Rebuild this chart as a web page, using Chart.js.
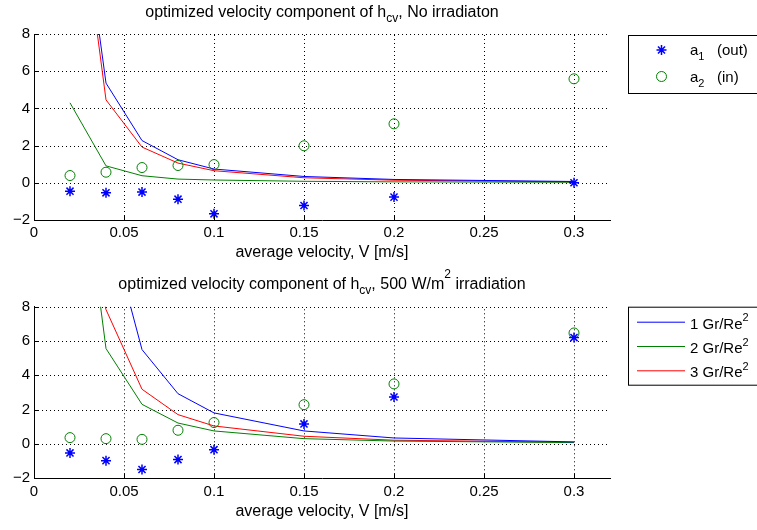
<!DOCTYPE html>
<html>
<head>
<meta charset="utf-8">
<script src="https://cdn.jsdelivr.net/npm/chart.js@4/dist/chart.umd.min.js"></script>
<style>
body{margin:0;background:#fff;}
#wrap{position:relative;width:757px;height:530px;overflow:hidden;}
canvas{position:absolute;left:0;}
</style>
</head>
<body>
<div id="wrap">
<canvas id="topChart" width="757" height="265" style="top:0"></canvas>
<canvas id="botChart" width="757" height="265" style="top:265px"></canvas>
</div>
<script>
// average velocity V [m/s]
var velocity = [0.02, 0.04, 0.06, 0.08, 0.1, 0.15, 0.2, 0.3];

// no irradiation
var a1Out0 = [-0.45, -0.54, -0.5, -0.88, -1.67, -1.22, -0.77, 0.0];
var a2In0  = [0.39, 0.57, 0.82, 0.93, 0.98, 1.99, 3.17, 5.59];
var gr1_0  = [19.6, 5.36, 2.27, 1.24, 0.74, 0.34, 0.18, 0.07];
var gr2_0  = [4.3, 0.91, 0.38, 0.2, 0.15, 0.08, 0.05, 0.03];
var gr3_0  = [19.2, 4.46, 1.92, 1.06, 0.65, 0.27, 0.14, 0.05];

// 500 W/m2 irradiation
var a1Out5 = [-0.52, -0.97, -1.49, -0.91, -0.33, 1.17, 2.74, 6.2];
var a2In5  = [0.37, 0.31, 0.27, 0.8, 1.25, 2.29, 3.5, 6.47];
var gr1_5  = [40, 13.4, 5.5, 2.93, 1.81, 0.76, 0.35, 0.12];
var gr2_5  = [21.8, 5.56, 2.31, 1.22, 0.76, 0.31, 0.17, 0.08];
var gr3_5  = [16.5, 7.83, 3.19, 1.71, 1.05, 0.45, 0.22, 0.1];

var xTicks = [0, 0.05, 0.1, 0.15, 0.2, 0.25, 0.3];
var xTickLabels = ['0', '0.05', '0.1', '0.15', '0.2', '0.25', '0.3'];
var yTicks = [-2, 0, 2, 4, 6, 8];
var yTickLabels = ['\u22122', '0', '2', '4', '6', '8'];

var FONT = '"Liberation Sans", Arial, Helvetica, sans-serif';
var BLUE = '#0000ff', GREEN = '#008000', RED = '#ff0000';

function pts(ys) {
  return velocity.map(function (v, i) { return {x: v, y: ys[i]}; });
}

// text with sub/superscripts, drawn piece by piece
function drawRich(ctx, parts, x, baseY, size, align, supK) {
  var small = Math.round(size * 0.75);
  var total = 0;
  parts.forEach(function (p) {
    ctx.font = ((p.sub || p.sup) ? small : size) + 'px ' + FONT;
    p.w = ctx.measureText(p.t).width;
    total += p.w;
  });
  var cx = align === 'center' ? x - total / 2 : x;
  ctx.fillStyle = '#000';
  ctx.textAlign = 'left';
  ctx.textBaseline = 'alphabetic';
  parts.forEach(function (p) {
    ctx.font = ((p.sub || p.sup) ? small : size) + 'px ' + FONT;
    var dy = p.sub ? size * 0.35 : (p.sup ? -size * supK : 0);
    ctx.fillText(p.t, cx, baseY + dy);
    cx += p.w;
  });
}

var matlabDecor = {
  id: 'matlabDecor',
  beforeDatasetsDraw: function (chart) {
    // dotted grid
    var ctx = chart.ctx, area = chart.chartArea;
    var xs = chart.scales.x, ys = chart.scales.y;
    ctx.save();
    ctx.strokeStyle = '#000';
    ctx.lineWidth = 1;
    ctx.setLineDash([1, 3]);
    ctx.beginPath();
    xTicks.forEach(function (t) {
      if (t === 0) return;
      var px = Math.round(xs.getPixelForValue(t)) + 0.5;
      ctx.moveTo(px, area.bottom); ctx.lineTo(px, area.top);
    });
    yTicks.forEach(function (t) {
      if (t === -2) return;
      var py = Math.round(ys.getPixelForValue(t)) + 0.5;
      ctx.moveTo(area.left, py); ctx.lineTo(area.right, py);
    });
    ctx.stroke();
    ctx.restore();
  },
  afterDraw: function (chart, args, opts) {
    var ctx = chart.ctx, area = chart.chartArea;
    ctx.save();
    drawRich(ctx, opts.title, (area.left + area.right) / 2, opts.titleY, 16, 'center', 0.63);

    // small inward tick marks like matlab
    var xs = chart.scales.x, ys = chart.scales.y;
    ctx.strokeStyle = '#000';
    ctx.lineWidth = 1;
    ctx.beginPath();
    xTicks.forEach(function (t) {
      var px = Math.round(xs.getPixelForValue(t)) + 0.5;
      ctx.moveTo(px, area.bottom); ctx.lineTo(px, area.bottom - 5);
    });
    yTicks.forEach(function (t) {
      var py = Math.round(ys.getPixelForValue(t)) + 0.5;
      ctx.moveTo(area.left, py); ctx.lineTo(area.left + 5, py);
    });
    ctx.stroke();

    // legend box
    var lg = opts.legend;
    ctx.fillStyle = '#fff';
    ctx.fillRect(lg.x, lg.y, lg.w, lg.h);
    ctx.strokeStyle = '#000';
    ctx.lineWidth = 1;
    ctx.strokeRect(lg.x + 0.5, lg.y + 0.5, lg.w, lg.h);
    lg.items.forEach(function (it, i) {
      var y = lg.y + lg.first + i * lg.step;
      ctx.strokeStyle = it.color;
      ctx.beginPath();
      if (it.kind === 'star') {
        ctx.lineWidth = 1.5;
        var r = 5, sx = lg.x + 33.5;
        for (var k = 0; k < 4; k++) {
          var a = k * Math.PI / 4;
          ctx.moveTo(sx - r * Math.cos(a), y - r * Math.sin(a));
          ctx.lineTo(sx + r * Math.cos(a), y + r * Math.sin(a));
        }
      } else if (it.kind === 'circle') {
        ctx.lineWidth = 1;
        ctx.arc(lg.x + 33.5, y, 5, 0, Math.PI * 2);
      } else {
        ctx.lineWidth = 1;
        ctx.moveTo(lg.x + 9, y + 0.5);
        ctx.lineTo(lg.x + 57, y + 0.5);
      }
      ctx.stroke();
      drawRich(ctx, it.text, lg.x + lg.textX, y + lg.textDy, 15, 'left', 0.5);
    });
    ctx.restore();
  }
};

function makeOptions(cfg) {
  return {
    responsive: false,
    animation: false,
    events: [],
    layout: {padding: {top: cfg.top, right: 147, left: 0, bottom: 0}},
    plugins: {
      legend: {display: false},
      tooltip: {enabled: false},
      matlabDecor: {title: cfg.title, titleY: cfg.titleY, legend: cfg.legend}
    },
    scales: {
      x: {
        type: 'linear', min: 0, max: 0.32,
        afterBuildTicks: function (s) { s.ticks = xTicks.map(function (v) { return {value: v}; }); },
        afterFit: function (s) { s.height = cfg.xHeight; },
        ticks: {
          color: '#000', font: {size: 15, family: FONT}, padding: cfg.xTickPad, maxRotation: 0,
          callback: function (v) { return xTickLabels[xTicks.indexOf(v)]; }
        },
        grid: {display: false, drawTicks: false},
        border: {display: true, color: '#000', width: 1},
        title: {display: true, text: 'average velocity, V [m/s]', color: '#000',
                font: {size: 16, family: FONT}, padding: {top: 0, bottom: cfg.xTitlePad}}
      },
      y: {
        type: 'linear', min: -2, max: 8,
        afterBuildTicks: function (s) { s.ticks = yTicks.map(function (v) { return {value: v}; }); },
        afterFit: function (s) { s.width = 34; },
        ticks: {
          color: '#000', font: {size: 15, family: FONT}, padding: 4,
          callback: function (v) { return yTickLabels[yTicks.indexOf(v)]; }
        },
        grid: {display: false, drawTicks: false},
        border: {display: true, color: '#000', width: 1}
      }
    }
  };
}

function lineSet(label, data, color) {
  return {label: label, data: pts(data), showLine: true, borderColor: color, borderWidth: 1,
          pointRadius: 0, fill: false, tension: 0};
}
function markSet(label, data, color, style) {
  return {label: label, data: pts(data), showLine: false, pointStyle: style, pointRadius: 5,
          borderColor: color, backgroundColor: 'rgba(0,0,0,0)',
          pointBorderWidth: style === 'star' ? 1.5 : 1};
}

new Chart(document.getElementById('topChart'), {
  type: 'scatter',
  data: {
    datasets: [
      markSet('a1 (out)', a1Out0, BLUE, 'star'),
      markSet('a2 (in)', a2In0, GREEN, 'circle'),
      lineSet('1 Gr/Re2', gr1_0, BLUE),
      lineSet('2 Gr/Re2', gr2_0, GREEN),
      lineSet('3 Gr/Re2', gr3_0, RED)
    ]
  },
  options: makeOptions({
    top: 34, xHeight: 45, xTickPad: 4, xTitlePad: 3, titleY: 16.5,
    title: [{t: 'optimized velocity component of h'}, {t: 'cv', sub: true}, {t: ', No irradiaton'}],
    legend: {
      x: 628, y: 35, w: 140, h: 58, first: 15, step: 26.5, textX: 62, textDy: 5,
      items: [
        {kind: 'star', color: BLUE, text: [{t: 'a'}, {t: '1', sub: true}, {t: '   (out)'}]},
        {kind: 'circle', color: GREEN, text: [{t: 'a'}, {t: '2', sub: true}, {t: '   (in)'}]}
      ]
    }
  }),
  plugins: [matlabDecor]
});

new Chart(document.getElementById('botChart'), {
  type: 'scatter',
  data: {
    datasets: [
      markSet('a1 (out)', a1Out5, BLUE, 'star'),
      markSet('a2 (in)', a2In5, GREEN, 'circle'),
      lineSet('1 Gr/Re2', gr1_5, BLUE),
      lineSet('2 Gr/Re2', gr2_5, GREEN),
      lineSet('3 Gr/Re2', gr3_5, RED)
    ]
  },
  options: makeOptions({
    top: 41.7, xHeight: 51.7, xTickPad: 5, xTitlePad: 9, titleY: 23.5,
    title: [{t: 'optimized velocity component of h'}, {t: 'cv', sub: true}, {t: ', 500 W/m'}, {t: '2', sup: true}, {t: ' irradiation'}],
    legend: {
      x: 628, y: 41.7, w: 140, h: 78, first: 15, step: 24.3, textX: 62, textDy: 7,
      items: [
        {kind: 'line', color: BLUE, text: [{t: '1 Gr/Re'}, {t: '2', sup: true}]},
        {kind: 'line', color: GREEN, text: [{t: '2 Gr/Re'}, {t: '2', sup: true}]},
        {kind: 'line', color: RED, text: [{t: '3 Gr/Re'}, {t: '2', sup: true}]}
      ]
    }
  }),
  plugins: [matlabDecor]
});
</script>
</body>
</html>
